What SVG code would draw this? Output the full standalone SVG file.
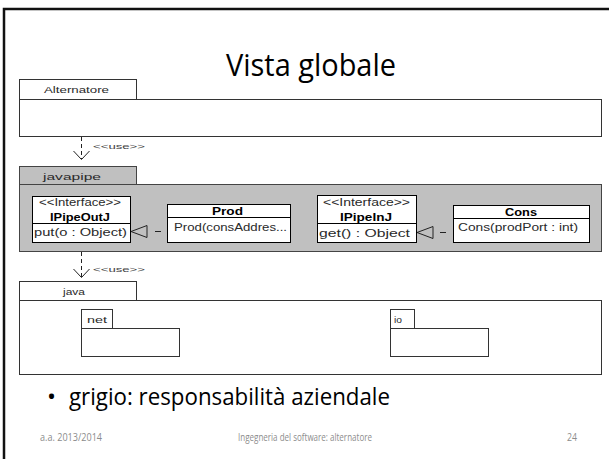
<svg xmlns="http://www.w3.org/2000/svg" width="609" height="459" viewBox="0 0 609 459">
<style>
.pk{fill:#fff;stroke:#333;stroke-width:1}
.pg{fill:#c0c0c0;stroke:#444;stroke-width:1}
.cl{fill:#fff;stroke:#000;stroke-width:1}
.t{font-family:"Liberation Sans",Arial,sans-serif;fill:#2a2a2a}
.s9{font-size:9px}
.s10{font-size:10px}
.b{font-weight:bold;fill:#000}
.u{font-family:"Liberation Sans",Arial,sans-serif;font-size:7.5px;fill:#444}
.dep{fill:none;stroke:#222;stroke-width:1;stroke-dasharray:4,3}
.real{fill:none;stroke:#222;stroke-width:1}
.ft{font-family:"Open Sans","Liberation Sans",sans-serif;font-size:10px;fill:#8c8c8c}
.big{font-family:"Open Sans","Liberation Sans",sans-serif;fill:#000}
</style>
<rect x="0" y="0" width="609" height="459" fill="#fff"/>
<rect x="4" y="9" width="620" height="470" fill="none" stroke="#111" stroke-width="2.5"/>
<text class="big" x="226" y="76" font-size="31" textLength="170" lengthAdjust="spacingAndGlyphs">Vista globale</text>

<g id="Alternatore">
<rect class="pk" x="19.5" y="79.5" width="117" height="20"/>
<rect class="pk" x="19.5" y="99.5" width="582" height="37"/>
<text class="t s9" x="44" y="93" textLength="65" lengthAdjust="spacingAndGlyphs">Alternatore</text>
</g>

<g id="javapipe">
<rect class="pg" x="19.5" y="166.5" width="117" height="18"/>
<rect class="pg" x="19.5" y="184.5" width="582" height="67"/>
<text class="t s9" x="43" y="179.5" textLength="58" lengthAdjust="spacingAndGlyphs">javapipe</text>
</g>

<g id="IPipeOutJ">
<rect class="cl" x="32.5" y="196.5" width="98" height="46"/>
<line x1="32.5" y1="223.5" x2="130.5" y2="223.5" stroke="#000"/>
<text class="t s10" x="39" y="205.5" textLength="82" lengthAdjust="spacingAndGlyphs">&lt;&lt;Interface&gt;&gt;</text>
<text class="t s10 b" x="50" y="220.5" textLength="60" lengthAdjust="spacingAndGlyphs">IPipeOutJ</text>
<text class="t s10" x="34" y="236" textLength="93" lengthAdjust="spacingAndGlyphs">put(o : Object)</text>
</g>

<g id="Prod">
<rect class="cl" x="167.5" y="204.5" width="123" height="38"/>
<line x1="167.5" y1="217.5" x2="290.5" y2="217.5" stroke="#000"/>
<text class="t s10 b" x="212" y="215" textLength="31" lengthAdjust="spacingAndGlyphs">Prod</text>
<text class="t s10" x="174" y="231" textLength="113" lengthAdjust="spacingAndGlyphs">Prod(consAddres...</text>
</g>

<g id="IPipeInJ">
<rect class="cl" x="317.5" y="195.5" width="99" height="47"/>
<line x1="317.5" y1="223.5" x2="416.5" y2="223.5" stroke="#000"/>
<text class="t s10" x="323" y="205.5" textLength="87" lengthAdjust="spacingAndGlyphs">&lt;&lt;Interface&gt;&gt;</text>
<text class="t s10 b" x="340" y="220.5" textLength="52" lengthAdjust="spacingAndGlyphs">IPipeInJ</text>
<text class="t s10" x="319" y="236.5" textLength="91" lengthAdjust="spacingAndGlyphs">get() : Object</text>
</g>

<g id="Cons">
<rect class="cl" x="453.5" y="205.5" width="136" height="37"/>
<line x1="453.5" y1="218.5" x2="589.5" y2="218.5" stroke="#000"/>
<text class="t s10 b" x="505" y="215.5" textLength="32" lengthAdjust="spacingAndGlyphs">Cons</text>
<text class="t s10" x="458" y="231" textLength="120" lengthAdjust="spacingAndGlyphs">Cons(prodPort : int)</text>
</g>

<g id="java">
<rect class="pk" x="19.5" y="281.5" width="117" height="19"/>
<rect class="pk" x="19.5" y="300.5" width="582" height="74"/>
<text class="t s9" x="63" y="295" textLength="22" lengthAdjust="spacingAndGlyphs">java</text>
</g>

<g id="net">
<rect class="pk" x="81.5" y="309.5" width="31" height="19"/>
<rect class="pk" x="81.5" y="328.5" width="98" height="28"/>
<text class="t s9" x="87" y="322.5" textLength="20" lengthAdjust="spacingAndGlyphs">net</text>
</g>

<g id="io">
<rect class="pk" x="390.5" y="309.5" width="24" height="19"/>
<rect class="pk" x="390.5" y="328.5" width="98" height="28"/>
<text class="t s9" x="394" y="322.5" textLength="8" lengthAdjust="spacingAndGlyphs">io</text>
</g>

<g id="connectors">
<line class="dep" x1="81.5" y1="137" x2="81.5" y2="159"/>
<polyline class="real" points="73.5,151 81.5,159.5 89.5,151"/>
<text class="u" x="93" y="149" textLength="52" lengthAdjust="spacingAndGlyphs">&lt;&lt;use&gt;&gt;</text>

<line class="dep" x1="81.5" y1="252" x2="81.5" y2="277"/>
<polyline class="real" points="73.5,269 81.5,277.5 89.5,269"/>
<text class="u" x="93" y="272" textLength="52" lengthAdjust="spacingAndGlyphs">&lt;&lt;use&gt;&gt;</text>

<polygon class="real" points="131,231.5 147,225.5 147,237.5"/>
<line x1="155" y1="231.5" x2="161" y2="231.5" stroke="#222"/>

<polygon class="real" points="417,232.5 433,226.5 433,238.5"/>
<line x1="440" y1="232.5" x2="446" y2="232.5" stroke="#222"/>
</g>

<text class="big" x="47" y="405" font-size="24">•</text>
<text class="big" x="69" y="405" font-size="24" textLength="321" lengthAdjust="spacingAndGlyphs">grigio: responsabilità aziendale</text>

<text class="ft" x="40" y="441" textLength="62" lengthAdjust="spacingAndGlyphs">a.a. 2013/2014</text>
<text class="ft" x="238" y="441" textLength="134" lengthAdjust="spacingAndGlyphs">Ingegneria del software: alternatore</text>
<text class="ft" x="567" y="441" textLength="10" lengthAdjust="spacingAndGlyphs">24</text>
</svg>
